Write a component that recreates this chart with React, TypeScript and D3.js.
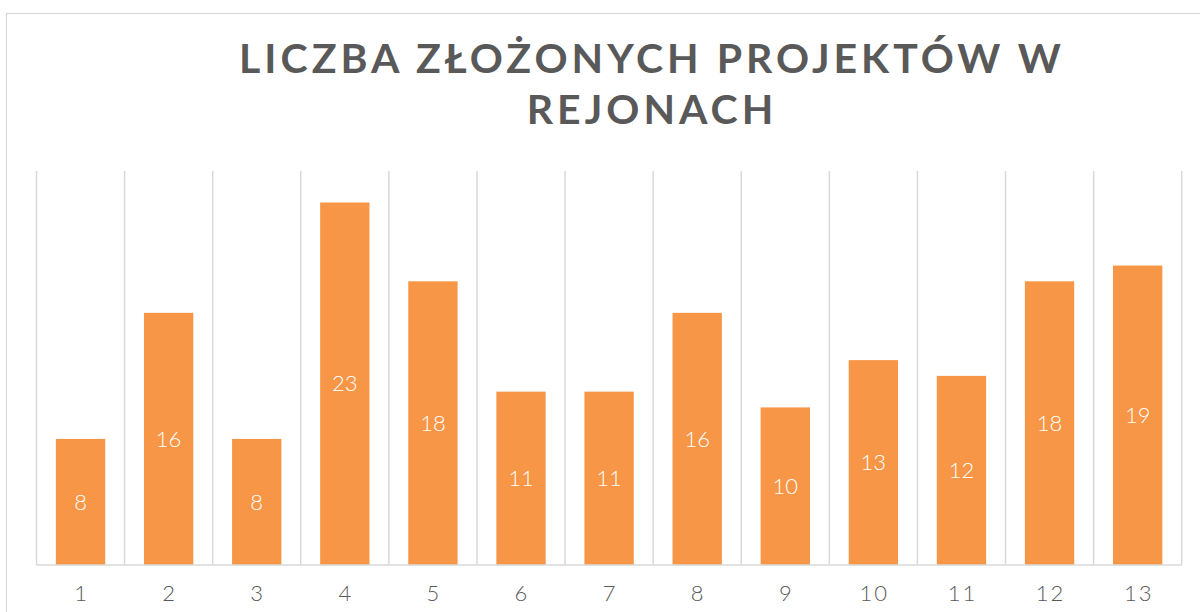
import React from "react";
import * as d3 from "d3";

const categories = ["1", "2", "3", "4", "5", "6", "7", "8", "9", "10", "11", "12", "13"];
const values = [8, 16, 8, 23, 18, 11, 11, 16, 10, 13, 12, 18, 19];
const yMax = 25;
const titleLines = ["LICZBA ZŁOŻONYCH PROJEKTÓW W", "REJONACH"];

export default function App() {
  const W = 1200, H = 612;
  const left = 36.5, right = 1181.7, top = 171, bottom = 565;
  const x = d3.scaleBand<string>().domain(categories).range([left, right]).paddingInner(0.44).paddingOuter(0.22);
  const step = (right - left) / categories.length;
  const y = d3.scaleLinear().domain([0, yMax]).range([bottom, top]);
  const font = "Lato, 'Open Sans', sans-serif";
  return (
    <svg width={W} height={H} style={{ position: "absolute", left: 0, top: 0 }}>
      <rect x={0} y={0} width={W} height={H} fill="#fff" />
      <rect x={6.5} y={13.5} width={1300} height={700} fill="#fff" stroke="#d9d9d9" strokeWidth={1.2} />
      {d3.range(categories.length + 1).map((i) => (
        <line key={i} x1={left + i * step} x2={left + i * step} y1={top} y2={bottom} stroke="#d9d9d9" strokeWidth={1.5} />
      ))}
      {categories.map((c, i) => (
        <rect key={c} x={x(c)} y={y(values[i])} width={x.bandwidth()} height={bottom - y(values[i])} fill="#F79646" />
      ))}
      <line x1={left} x2={right} y1={bottom} y2={bottom} stroke="#d9d9d9" strokeWidth={1.5} />
      {categories.map((c, i) => (
        <text key={"v" + c} x={x(c)! + x.bandwidth() / 2} y={(y(values[i]) + bottom) / 2} dy="0.35em" textAnchor="middle"
          fill="#fff" fontFamily={font} fontWeight={300} fontSize={22}>{values[i]}</text>
      ))}
      {categories.map((c) => (
        <text key={"t" + c} x={x(c)! + x.bandwidth() / 2 + 1} y={601} textAnchor="middle"
          fill="#595959" fontFamily={font} fontWeight={300} fontSize={22} letterSpacing={2}>{c}</text>
      ))}
      {titleLines.map((t, i) => (
        <text key={t} x={652} y={73 + i * 51} textAnchor="middle" fill="#595959" fontFamily={font}
          fontWeight={700} fontSize={41} letterSpacing={4}>{t}</text>
      ))}
    </svg>
  );
}
